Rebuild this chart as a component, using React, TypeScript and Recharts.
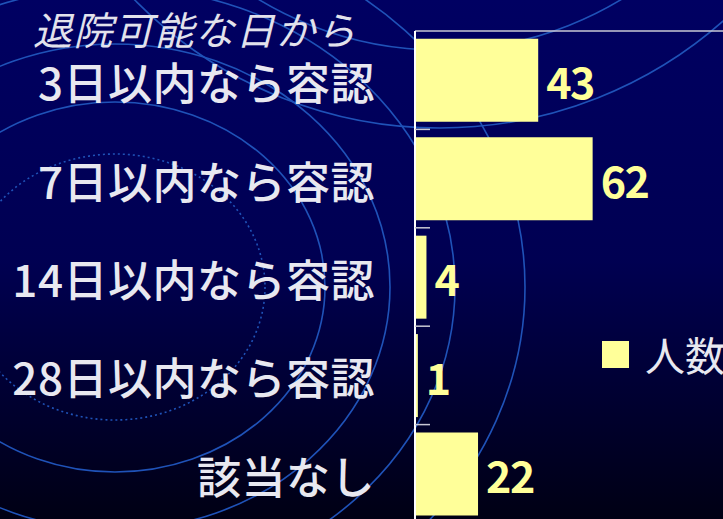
import React from 'react';
import { BarChart, Bar, XAxis, YAxis, Legend, LabelList } from 'recharts';

const categories = ['3日以内なら容認', '7日以内なら容認', '14日以内なら容認', '28日以内なら容認', '該当なし'];
const counts = [43, 62, 4, 1, 22];
const seriesName = '人数';
const titleText = '退院可能な日から';

const data = categories.map((name, i) => ({ name, value: counts[i] }));

const FONT = '"Noto Sans CJK JP", "Noto Sans", sans-serif';
const LABEL_COLOR = '#e8e8f0';
const BAR_COLOR = '#ffff99';
const LINE_COLOR = '#1f52b8';
const AXIS_GRAY = '#c8c8d4';
const TICK_MARGIN = 40;
const TICK_LEN = 15;

// decorative background ripples (not data)
const ripples = [
  { cx: 115, cy: 287, rx: 150, ry: 133, dash: '2 3' },
  { cx: 115, cy: 287, rx: 210, ry: 185 },
  { cx: 115, cy: 287, rx: 275, ry: 243 },
  { cx: 115, cy: 287, rx: 340, ry: 300 },
  { cx: 115, cy: 287, rx: 410, ry: 363 },
  { cx: 440, cy: -300, rx: 428, ry: 428 },
  { cx: 440, cy: -300, rx: 350, ry: 350 },
];

// Category label plus a short inward tick mark on the boundary above each band
const CategoryTick = (props: any) => {
  const { x, y, payload, index, height, visibleTicksCount } = props;
  const bandRaw = Number(height) / Number(visibleTicksCount);
  const band = Number.isFinite(bandRaw) && bandRaw > 0 ? bandRaw : 98.4;
  const axisX = x + TICK_MARGIN;
  const by = y - band / 2;
  return (
    <g>
      {index > 0 && (
        <line x1={axisX} x2={axisX + TICK_LEN} y1={by} y2={by} stroke={AXIS_GRAY} strokeWidth={1.5} />
      )}
      <text x={x} y={y + 20} textAnchor="end" fill={LABEL_COLOR} fontSize={44} fontFamily={FONT} fontWeight={500} letterSpacing={0.5}>
        {payload.value}
      </text>
    </g>
  );
};

const ValueLabel = (props: any) => {
  const { x, y, width, height, value } = props;
  return (
    <text x={x + width + 8} y={y + height / 2 + 19} fill={BAR_COLOR} fontSize={43} fontWeight="bold" fontFamily={FONT} letterSpacing={-1.5}>
      {value}
    </text>
  );
};

const LegendContent = (props: any) => {
  const items = props.payload || [];
  return (
    <div>
      {items.map((it: any) => (
        <div key={it.value} style={{ display: 'flex', alignItems: 'center', height: 40, whiteSpace: 'nowrap' }}>
          <div style={{ width: 27, height: 27, background: it.color, marginRight: 16, flex: 'none' }} />
          <span style={{ color: LABEL_COLOR, fontSize: 40, fontFamily: FONT, lineHeight: '40px' }}>{it.value}</span>
        </div>
      ))}
    </div>
  );
};

export default function App() {
  return (
    <div style={{ position: 'absolute', left: 0, top: 0, width: 723, height: 519, overflow: 'hidden', fontFamily: FONT }}>
      <svg width={723} height={519} style={{ position: 'absolute', left: 0, top: 0 }}>
        <defs>
          <linearGradient id="bgGrad" x1="0" y1="0" x2="0" y2="1">
            <stop offset="0%" stopColor="#000062" />
            <stop offset="50%" stopColor="#000052" />
            <stop offset="100%" stopColor="#000014" />
          </linearGradient>
        </defs>
        <rect x={0} y={0} width={723} height={519} fill="url(#bgGrad)" />
        {ripples.map((r, i) => (
          <ellipse
            key={i}
            cx={r.cx}
            cy={r.cy}
            rx={r.rx}
            ry={r.ry}
            fill="none"
            stroke={LINE_COLOR}
            strokeWidth={1.6}
            strokeDasharray={r.dash}
          />
        ))}
        <text x={33} y={45} fill="#e2e2ec" fontSize={39} fontStyle="italic" fontFamily={FONT} letterSpacing={1.5}>
          {titleText}
        </text>
      </svg>
      <div style={{ position: 'absolute', left: 0, top: 0 }}>
        <BarChart
          width={723}
          height={519}
          data={data}
          layout="vertical"
          margin={{ top: 0, right: 0, bottom: -4, left: 0 }}
          barCategoryGap="8%"
        >
          <XAxis
            type="number"
            orientation="top"
            domain={[0, 107.5]}
            allowDataOverflow
            height={31}
            tick={false}
            tickLine={false}
            axisLine={{ stroke: AXIS_GRAY, strokeWidth: 1.5 }}
          />
          <YAxis
            type="category"
            dataKey="name"
            width={415}
            tickSize={0}
            tickMargin={TICK_MARGIN}
            tickLine={false}
            axisLine={{ stroke: '#ffffff', strokeWidth: 2 }}
            tick={<CategoryTick />}
            interval={0}
          />
          <Legend
            layout="horizontal"
            verticalAlign="middle"
            align="center"
            wrapperStyle={{ left: 602, top: 334, width: 160 }}
            content={<LegendContent />}
          />
          <Bar dataKey="value" name={seriesName} fill={BAR_COLOR} isAnimationActive={false}>
            <LabelList dataKey="value" content={<ValueLabel />} />
          </Bar>
        </BarChart>
      </div>
    </div>
  );
}
